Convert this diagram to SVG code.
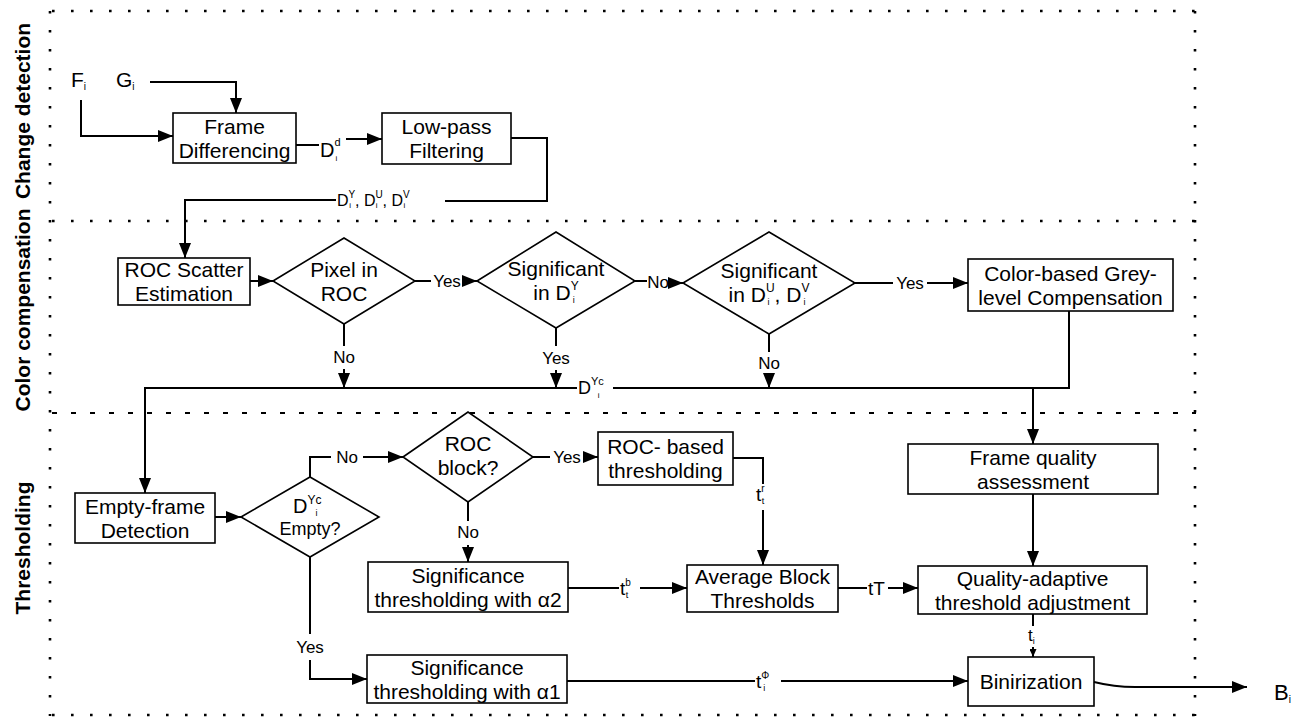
<svg xmlns="http://www.w3.org/2000/svg" width="1306" height="719" viewBox="0 0 1306 719">
  <style>
    text { font-family: "Liberation Sans", Arial, sans-serif; fill: #000; }
    .lbl { font-size: 21px; text-anchor: middle; }
    .yn { font-size: 17px; text-anchor: middle; }
    .sec { font-size: 21px; font-weight: bold; text-anchor: middle; }
    .box { fill: #fff; stroke: #000; stroke-width: 1.6; }
    .wire { fill: none; stroke: #000; stroke-width: 2; }
    .arr { marker-end: url(#arrow); }
    .dots { fill: none; stroke: #000; stroke-width: 2.6; stroke-dasharray: 2.6 16.4; }
    .dash { fill: none; stroke: #000; stroke-width: 2; stroke-dasharray: 5 14; }
  </style>
  <defs>
    <marker id="arrow" markerUnits="userSpaceOnUse" markerWidth="15" markerHeight="12" refX="15" refY="6" orient="auto">
      <path d="M0,0 L15,6 L0,12 z" fill="#000"/>
    </marker>
    <marker id="arrowSmall" markerUnits="userSpaceOnUse" markerWidth="8" markerHeight="7" refX="8" refY="3.5" orient="auto">
      <path d="M0,0 L8,3.5 L0,7 z" fill="#000"/>
    </marker>
  </defs>
  <rect width="1306" height="719" fill="#fff"/>

  <!-- stage frames -->
  <g id="stages">
    <path class="dots" d="M52,11 H1196"/>
    <path class="dots" d="M50,11 V716"/>
    <path class="dots" d="M1195,11 V716"/>
    <path class="dots" d="M52,715 H1196"/>
    <path class="dots" d="M52,221 H1196"/>
    <path class="dash" d="M52,413 H1196"/>
    <text class="sec" transform="translate(30,111) rotate(-90)">Change detection</text>
    <text class="sec" transform="translate(30,310) rotate(-90)">Color compensation</text>
    <text class="sec" transform="translate(30,548) rotate(-90)">Thresholding</text>
  </g>

  <!-- inputs -->
  <g id="inputs">
    <text x="71" y="87" font-size="21">F<tspan font-size="10" dy="3">i</tspan></text>
    <text x="116" y="87" font-size="21">G<tspan font-size="10" dy="3">i</tspan></text>
  </g>

  <g id="frame-differencing">
    <rect class="box" x="173" y="113" width="123" height="50"/>
    <text class="lbl" x="234.5" y="133.5">Frame</text>
    <text class="lbl" x="234.5" y="157.5">Differencing</text>
  </g>

  <g id="low-pass">
    <rect class="box" x="382" y="113" width="129" height="51"/>
    <text class="lbl" x="446.5" y="134">Low-pass</text>
    <text class="lbl" x="446.5" y="158">Filtering</text>
  </g>

  <g id="roc-scatter">
    <rect class="box" x="118" y="258" width="132" height="47"/>
    <text class="lbl" x="184" y="277">ROC Scatter</text>
    <text class="lbl" x="184" y="301">Estimation</text>
  </g>

  <g id="pixel-in-roc">
    <polygon class="box" points="273,281 344,238 415,281 344,324"/>
    <text class="lbl" x="344" y="277">Pixel in</text>
    <text class="lbl" x="344" y="301">ROC</text>
  </g>

  <g id="significant-y">
    <polygon class="box" points="477,281 556,232 635,281 556,328"/>
    <text class="lbl" x="556" y="276">Significant</text>
    <text class="lbl" x="556" y="300">in D<tspan font-size="12" dy="-10">Y</tspan><tspan font-size="9" dx="-6" dy="13">i</tspan></text>
  </g>

  <g id="significant-uv">
    <polygon class="box" points="683,283 769,232 855,283 769,334"/>
    <text class="lbl" x="769" y="278">Significant</text>
    <text class="lbl" x="769" y="302">in D<tspan font-size="12" dy="-10">U</tspan><tspan font-size="9" dx="-7" dy="13">i</tspan><tspan dx="5" dy="-3">, D</tspan><tspan font-size="12" dy="-10">V</tspan><tspan font-size="9" dx="-6" dy="13">i</tspan></text>
  </g>

  <g id="color-compensation">
    <rect class="box" x="968" y="259" width="205" height="52"/>
    <text class="lbl" x="1070.5" y="280.5">Color-based Grey-</text>
    <text class="lbl" x="1070.5" y="304.5">level Compensation</text>
  </g>

  <g id="empty-frame">
    <rect class="box" x="75" y="493" width="140" height="50"/>
    <text class="lbl" x="145" y="513.5">Empty-frame</text>
    <text class="lbl" x="145" y="537.5">Detection</text>
  </g>

  <g id="empty-check">
    <polygon class="box" points="241,517 310,477 379,517 310,557"/>
    <text x="293" y="513" font-size="20">D<tspan font-size="12" dy="-9">Yc</tspan><tspan font-size="9" dx="-6" dy="12">i</tspan></text>
    <text x="310" y="535" font-size="18" text-anchor="middle">Empty?</text>
  </g>

  <g id="roc-block">
    <polygon class="box" points="403,457 468,412 533,457 468,502"/>
    <text class="lbl" x="468" y="451">ROC</text>
    <text class="lbl" x="468" y="475">block?</text>
  </g>

  <g id="roc-thresholding">
    <rect class="box" x="598" y="432" width="135" height="53"/>
    <text class="lbl" x="665.5" y="454">ROC- based</text>
    <text class="lbl" x="665.5" y="478">thresholding</text>
  </g>

  <g id="significance-a2">
    <rect class="box" x="368" y="562" width="200" height="50"/>
    <text class="lbl" x="468" y="582.5">Significance</text>
    <text class="lbl" x="468" y="606.5">thresholding with α2</text>
  </g>

  <g id="average-block">
    <rect class="box" x="687" y="565" width="151" height="47"/>
    <text class="lbl" x="762.5" y="584">Average Block</text>
    <text class="lbl" x="762.5" y="608">Thresholds</text>
  </g>

  <g id="significance-a1">
    <rect class="box" x="367" y="655" width="200" height="48"/>
    <text class="lbl" x="467" y="674.5">Significance</text>
    <text class="lbl" x="467" y="698.5">thresholding with α1</text>
  </g>

  <g id="frame-quality">
    <rect class="box" x="908" y="444" width="250" height="50"/>
    <text class="lbl" x="1033" y="464.5">Frame quality</text>
    <text class="lbl" x="1033" y="488.5">assessment</text>
  </g>

  <g id="quality-adaptive">
    <rect class="box" x="918" y="566" width="229" height="48"/>
    <text class="lbl" x="1032.5" y="585.5">Quality-adaptive</text>
    <text class="lbl" x="1032.5" y="609.5">threshold adjustment</text>
  </g>

  <g id="binirization">
    <rect class="box" x="968" y="657" width="126" height="49"/>
    <text class="lbl" x="1031" y="689">Binirization</text>
  </g>

  <g id="output">
    <text x="1274" y="700" font-size="22">B<tspan font-size="10" dy="3">i</tspan></text>
  </g>

  <!-- connectors and their labels -->
  <g id="connectors">
    <path class="wire arr" d="M150,82 H236 V113"/>
    <path class="wire arr" d="M81,100 V136 H173"/>

    <path class="wire" d="M296,145 H319"/>
    <text x="320" y="157" font-size="20">D<tspan font-size="11" dy="-11">d</tspan><tspan font-size="8" dx="-5" dy="15">i</tspan></text>
    <path class="wire arr" d="M346,139 H382"/>

    <path class="wire" d="M511,138 H547 V201 H445"/>
    <text x="337" y="206" font-size="16">D<tspan font-size="10" dy="-8">Y</tspan><tspan font-size="8" dx="-6" dy="10">i</tspan><tspan dx="4" dy="-2">, D</tspan><tspan font-size="10" dy="-8">U</tspan><tspan font-size="8" dx="-7" dy="10">i</tspan><tspan dx="5" dy="-2">, D</tspan><tspan font-size="10" dy="-8">V</tspan><tspan font-size="8" dx="-6" dy="10">i</tspan></text>
    <path class="wire arr" d="M336,200 H185 V258"/>

    <path class="wire arr" d="M250,281 H273"/>

    <path class="wire" d="M415,281 H431"/>
    <text class="yn" x="447" y="287">Yes</text>
    <path class="wire arr" d="M463,281 H477"/>

    <path class="wire" d="M635,281 H647"/>
    <text class="yn" x="658" y="288">No</text>
    <path class="wire arr" d="M669,283 H683"/>

    <path class="wire" d="M855,283 H893"/>
    <text class="yn" x="910" y="289">Yes</text>
    <path class="wire arr" d="M927,283 H968"/>

    <path class="wire" d="M344,324 V346"/>
    <text class="yn" x="344" y="363">No</text>
    <path class="wire arr" d="M344,369 V388"/>

    <path class="wire" d="M556,328 V346"/>
    <text class="yn" x="556" y="364">Yes</text>
    <path class="wire arr" d="M556,370 V388"/>

    <path class="wire" d="M769,334 V352"/>
    <text class="yn" x="769" y="369">No</text>
    <path class="wire arr" d="M769,375 V388"/>

    <path class="wire arr" d="M577,388 H145 V493"/>
    <text x="578" y="394" font-size="18">D<tspan font-size="11" dy="-9">Yc</tspan><tspan font-size="8" dx="-6" dy="13">i</tspan></text>
    <path class="wire" d="M613,388 H1069 V311"/>
    <path class="wire arr" d="M1033,388 V444"/>

    <path class="wire arr" d="M215,517 H241"/>

    <path class="wire" d="M310,477 V457 H331"/>
    <text class="yn" x="347" y="463">No</text>
    <path class="wire arr" d="M363,457 H403"/>

    <path class="wire" d="M310,557 V634"/>
    <text class="yn" x="310" y="653">Yes</text>
    <path class="wire arr" d="M310,660 V679 H367"/>

    <path class="wire" d="M533,457 H550"/>
    <text class="yn" x="567" y="463">Yes</text>
    <path class="wire arr" d="M584,457 H598"/>

    <path class="wire" d="M468,502 V521"/>
    <text class="yn" x="468" y="538">No</text>
    <path class="wire arr" d="M468,545 V562"/>

    <path class="wire" d="M733,458 H763 V484"/>
    <text x="756" y="501" font-size="19">t<tspan font-size="10" dy="-9">r</tspan><tspan font-size="9" dx="-3" dy="12">t</tspan></text>
    <path class="wire arr" d="M763,510 V565"/>

    <path class="wire" d="M568,588 H619"/>
    <text x="620" y="595" font-size="19">t<tspan font-size="10" dy="-9">b</tspan><tspan font-size="9" dx="-5" dy="12">t</tspan></text>
    <path class="wire arr" d="M640,588 H687"/>

    <path class="wire" d="M838,588 H867"/>
    <text x="868" y="595" font-size="19">tT</text>
    <path class="wire arr" d="M888,588 H918"/>

    <path class="wire arr" d="M1033,494 V566"/>

    <path class="wire" d="M1033,614 V626"/>
    <text x="1028" y="641" font-size="17">t<tspan font-size="9" dy="3">i</tspan></text>
    <path class="wire" d="M1033,647 V657" marker-end="url(#arrowSmall)"/>

    <path class="wire" d="M567,681 H755"/>
    <text x="756" y="688" font-size="19">t<tspan font-size="10" dy="-9">Φ</tspan><tspan font-size="9" dx="-6" dy="12">i</tspan></text>
    <path class="wire arr" d="M781,681 H968"/>

    <path class="wire arr" d="M1094,682 C1110,686 1120,687 1135,687 H1247"/>
  </g>
</svg>
